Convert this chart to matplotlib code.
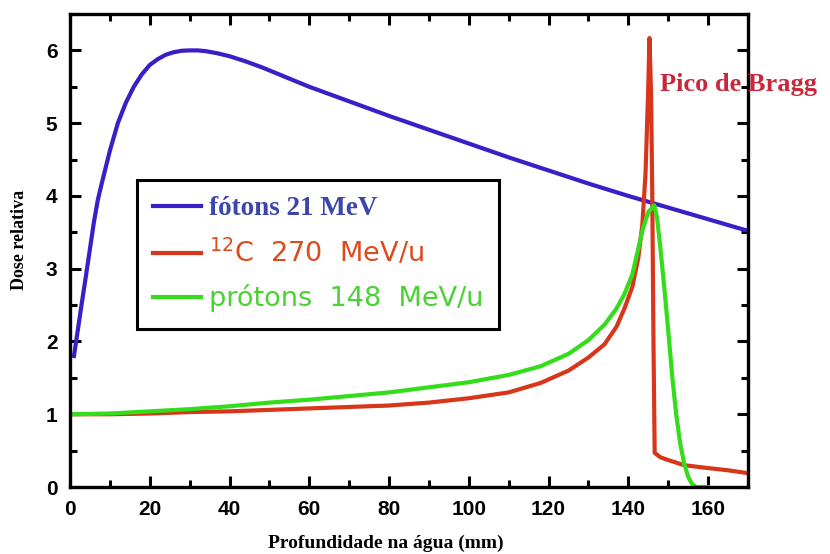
import matplotlib
matplotlib.use("Agg")
import matplotlib.pyplot as plt
from matplotlib.ticker import MultipleLocator

# depth in water (mm) and relative dose
photon_depth = [1, 2, 3, 4, 5, 6, 7, 8, 10, 12, 14, 16, 18, 20, 22, 24, 26, 28, 30, 32, 34,
                37, 40, 44, 48, 52, 60, 70, 80, 90, 100, 110, 120, 130, 140, 145, 150, 160, 170]
photon_dose = [1.80, 2.17, 2.54, 2.90, 3.27, 3.64, 3.95, 4.18, 4.62, 5.00, 5.28, 5.50, 5.67,
               5.80, 5.88, 5.94, 5.975, 5.995, 6.00, 6.00, 5.99, 5.96, 5.92, 5.85, 5.77, 5.68,
               5.50, 5.30, 5.10, 4.91, 4.72, 4.53, 4.35, 4.17, 4.00, 3.92, 3.84, 3.68, 3.52]

carbon_depth = [0, 10, 20, 30, 40, 50, 60, 70, 80, 90, 100, 110, 118, 125, 130, 134, 137,
                139, 141, 142.5, 143.5, 144.3, 145.0, 145.3, 145.7, 146.0, 146.3, 146.6,
                148, 150, 154, 160, 165, 170]
carbon_dose = [1.00, 1.00, 1.01, 1.03, 1.04, 1.06, 1.08, 1.10, 1.12, 1.16, 1.22, 1.30, 1.43,
               1.60, 1.78, 1.96, 2.20, 2.45, 2.75, 3.15, 3.60, 4.30, 5.50, 6.17, 5.40, 4.00,
               2.00, 0.47, 0.41, 0.37, 0.30, 0.26, 0.23, 0.19]

proton_depth = [0, 10, 20, 30, 40, 50, 60, 70, 80, 90, 100, 110, 118, 125, 130, 134, 137,
                139, 141, 143.6, 145, 146.5, 147.2, 148, 149, 150, 151, 152, 153, 154, 155,
                156, 157, 160]
proton_dose = [1.00, 1.01, 1.04, 1.07, 1.11, 1.16, 1.20, 1.25, 1.30, 1.37, 1.44, 1.54, 1.66,
               1.83, 2.02, 2.23, 2.45, 2.65, 2.92, 3.54, 3.78, 3.87, 3.70, 3.30, 2.75, 2.15,
               1.52, 1.00, 0.60, 0.32, 0.14, 0.04, 0.00, 0.00]

labels = ["fótons 21 MeV", "$^{12}$C  270  MeV/u", "prótons  148  MeV/u"]

fig = plt.figure(figsize=(8.3, 5.54), dpi=100)
ax = fig.add_axes([0.0843, 0.1209, 0.8169, 0.8538])

l1, = ax.plot(photon_depth, photon_dose, color="#3a1fc8", lw=3)
l2, = ax.plot(carbon_depth, carbon_dose, color="#d8361a", lw=3)
l3, = ax.plot(proton_depth, proton_dose, color="#33dd1a", lw=3)

ax.set_xlim(0, 170)
ax.set_ylim(0, 6.5)
ax.xaxis.set_major_locator(MultipleLocator(20))
ax.xaxis.set_minor_locator(MultipleLocator(10))
ax.yaxis.set_major_locator(MultipleLocator(1))
ax.yaxis.set_minor_locator(MultipleLocator(0.5))
ax.tick_params(which="both", direction="in", top=True, right=True, width=2.2)
ax.tick_params(which="major", length=8, pad=9)
ax.tick_params(which="minor", length=5)
for s in ax.spines.values():
    s.set_linewidth(2.4)
for t in ax.get_xticklabels() + ax.get_yticklabels():
    t.set_fontfamily("Liberation Sans")
    t.set_fontweight("bold")
    t.set_fontsize(15)

leg = ax.legend([l1, l2, l3], labels, loc="upper left",
                bbox_to_anchor=(0.0988, 0.649), borderaxespad=0,
                fancybox=False, edgecolor="black", framealpha=1,
                fontsize=19.5, handlelength=1.75, handletextpad=0.3,
                labelspacing=0.6, borderpad=0.6)
leg.get_frame().set_linewidth(2.2)
txt = leg.get_texts()
txt[0].set_color("#3c46aa")
txt[0].set_fontfamily("Liberation Serif")
txt[0].set_fontweight("bold")
txt[0].set_fontsize(19.5)
txt[1].set_color("#dc4a1e")
txt[2].set_color("#4ad232")

fig.text(386 / 830, 1 - 543 / 554, "Profundidade na água (mm)", ha="center", va="center",
         family="Liberation Serif", weight="bold", fontsize=14)
fig.text(20 / 830, 1 - 240 / 554, "Dose relativa", ha="center", va="center", rotation=90,
         family="Liberation Serif", weight="bold", fontsize=13)
fig.text(660 / 830, 1 - 85 / 554, "Pico de Bragg", ha="left", va="center",
         family="Liberation Serif", weight="bold", fontsize=19, color="#c8283c")

fig.savefig("out.png", dpi=100)
